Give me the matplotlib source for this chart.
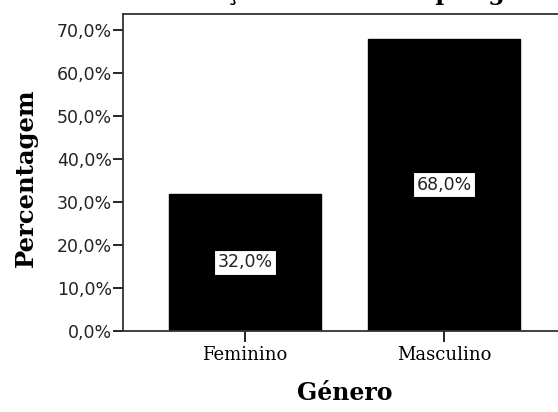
import matplotlib
matplotlib.use("Agg")
import matplotlib.pyplot as plt
from matplotlib.ticker import FuncFormatter

categories = ["Feminino", "Masculino"]
percentages = [32.0, 68.0]
yticks = [0, 10, 20, 30, 40, 50, 60, 70]
title = "Distribuição da amostra por género"


def pct(v):
    return f"{v:.1f}%".replace(".", ",")


fig = plt.figure(figsize=(5.58, 4.12), dpi=100)
ax = fig.add_axes([123 / 558, 81 / 412, 443 / 558, 317 / 412])

x = range(len(categories))
ax.bar(x, percentages, width=0.76, color="black", edgecolor="black")

# value labels in white boxes at the middle of each bar
for xi, v in zip(x, percentages):
    ax.text(xi, v / 2, pct(v), ha="center", va="center",
            fontsize=12.5, family="DejaVu Sans", color="#222222",
            bbox=dict(boxstyle="square,pad=0.2", facecolor="white",
                      edgecolor="black", linewidth=0.8))

ax.set_xlim(-0.613, 1.613)
ax.set_ylim(0, 73.8)
ax.set_yticks(yticks)
ax.yaxis.set_major_formatter(FuncFormatter(lambda v, p: pct(v)))
ax.set_xticks(list(x))
ax.set_xticklabels(categories, family="DejaVu Serif", fontsize=13)

for lab in ax.get_yticklabels():
    lab.set_fontsize(12.5)
    lab.set_family("DejaVu Sans")
    lab.set_color("#222222")

ax.tick_params(axis="y", length=7.3, width=1.2, pad=0.5)
ax.tick_params(axis="x", length=8, width=1.2, pad=3)
for s in ax.spines.values():
    s.set_linewidth(1.3)
    s.set_color("#333333")

fig.text(26 / 558, 1 - 178 / 412, "Percentagem", rotation=90,
         ha="center", va="center", family="DejaVu Serif",
         fontweight="bold", fontsize=17.5)
fig.text(345 / 558, 1 - 393 / 412, "Género", ha="center", va="center",
         family="DejaVu Serif", fontweight="bold", fontsize=17)

# title sits above the canvas, only its descenders show (as in the reference)
fig.text(344 / 558, 1.0, title, ha="center", va="baseline",
         family="DejaVu Serif", fontweight="bold", fontsize=17)

fig.savefig("out.png", dpi=100)
